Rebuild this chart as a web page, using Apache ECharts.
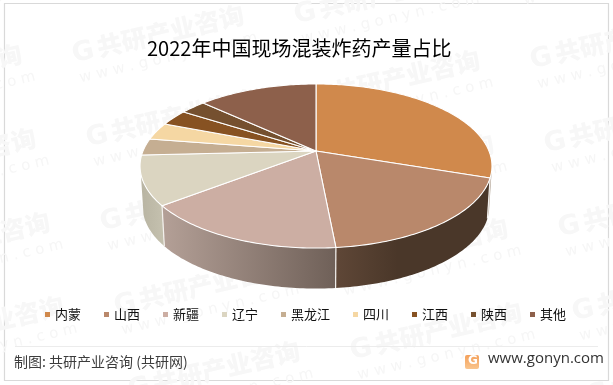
<!DOCTYPE html>
<html><head><meta charset="utf-8">
<style>html,body{margin:0;padding:0;background:#fff}#c{width:613px;height:385px}</style>
<script src="https://cdn.jsdelivr.net/npm/echarts@6/dist/echarts.min.js"></script>
</head><body><div id="c"></div>
<script>
const categories = ['内蒙','山西','新疆','辽宁','黑龙江','四川','江西','陕西','其他'];
const shares = [30.2,18.3,16.0,9.7,3.3,3.4,3.2,2.8,13.1];
const topColors = ['#d0894c','#b9886b','#ccaea3','#dbd5c1','#c5ae92','#f5d7a3','#875222','#75502f','#8d604b'];
const wallFrom = ['#b8aa9c','#5f4737','#b4a097','#b8b4a2','#b8b4a2','#b8b4a2','#b8b4a2','#b8b4a2','#b8b4a2'];
const wallTo   = ['#8a7866','#4a3729','#6f6058','#c4c0ae','#c4c0ae','#c4c0ae','#c4c0ae','#c4c0ae','#c4c0ae'];
const titleText = '2022年中国现场混装炸药产量占比';
const sourceText = '制图: 共研产业咨询 (共研网)';
const siteText = 'www.gonyn.com';

const FONT = '"Noto Sans CJK SC","Noto Sans",sans-serif';
const total = shares.reduce((a,b)=>a+b,0);
const starts = []; { let s=0; shares.forEach(v=>{starts.push(s); s+=v;}); }

// perspective disc: unit circle -> normalized grid coordinates (grid spans the top ellipse)
const P=0.183, A=79.3, B=173, RX=176, RY=82, APEX=15, DEPTH=40.5/RY;
function rim(t){ const u=Math.sin(t), v=Math.cos(t), w=1+P*v; return [B*u/w/RX,(APEX+A*v/w)/RY]; }
const apex=[0,APEX/RY];
function low(p){ return [p[0]*0.985, p[1]-DEPTH]; }
const VIS0=104*Math.PI/180, VIS1=254*Math.PI/180;

function angleRange(i){ return [starts[i]/total*2*Math.PI,(starts[i]+shares[i])/total*2*Math.PI]; }
function arc(t0,t1){ const n=Math.max(2,Math.ceil((t1-t0)/(Math.PI/180))); const r=[]; for(let k=0;k<=n;k++) r.push(t0+(t1-t0)*k/n); return r; }

function renderSlice(i){
  return function(params,api){
    const c=p=>api.coord(p);
    const [t0,t1]=angleRange(i);
    const kids=[];
    const a=Math.max(t0,VIS0), b=Math.min(t1,VIS1);
    if(b>a){
      const ts=arc(a,b);
      const upper=ts.map(t=>c(rim(t)));
      const lower=ts.map(t=>c(low(rim(t)))).reverse();
      const xs=upper.map(p=>p[0]);
      const left=Math.min(...xs), right=Math.max(...xs);
      const fill=new echarts.graphic.LinearGradient(left,0,left+(right-left)*(i===1?0.4:1),0,
        [{offset:0,color:wallFrom[i]},{offset:1,color:wallTo[i]}],true);
      kids.push({type:'polygon',z2:1,shape:{points:upper.concat(lower)},style:{fill:fill,stroke:null}});
      if(a===t0) kids.push({type:'line',z2:2,shape:{x1:upper[0][0],y1:upper[0][1],x2:lower[lower.length-1][0],y2:lower[lower.length-1][1]},style:{stroke:'#f4f1ee',lineWidth:1.2}});
    }
    const top=[c(apex)].concat(arc(t0,t1).map(t=>c(rim(t))));
    kids.push({type:'polygon',z2:3,shape:{points:top},style:{fill:topColors[i],stroke:'#fff',lineWidth:1.1,lineJoin:'round'}});
    return {type:'group',children:kids};
  };
}

// faint background marks
const marks=[];
const ax=236, ay=45, bx=14, by=84, ox=81, oy=53;
for(let m=-2;m<=3;m++) for(let n=-3;n<=5;n++){
  const x=ox+m*ax+n*bx, y=oy+m*ay+n*by;
  if(x<-190||x>620||y<-30||y>400) continue;
  marks.push({type:'group',x:x,y:y,rotation:13*Math.PI/180,silent:true,z:-10,children:[
    {type:'text',x:-9,y:-13,style:{text:'G',font:'900 27px "DejaVu Sans"',fill:'#f7f7f7'}},
    {type:'text',x:17,y:-14,style:{text:'共研产业咨询',font:'900 25px '+FONT,fill:'#f7f7f7'}},
    {type:'text',x:-7,y:17,style:{text:'w w w . g o n y n . c o m',font:'15px "DejaVu Sans"',fill:'#f6f6f6'}}
  ]});
}

const chrome=[
  {type:'rect',z:-5,silent:true,shape:{x:4.5,y:3.5,width:604,height:377},style:{fill:'none',stroke:'#d9d9d9',lineWidth:1.2}},
  {type:'line',silent:true,shape:{x1:15,y1:346.5,x2:598,y2:346.5},style:{stroke:'#ececec',lineWidth:1}},
  {type:'text',silent:true,x:14,y:355,style:{text:sourceText,font:'14px '+FONT,fill:'#3c3c3c'}},
  {type:'text',silent:true,x:488,y:351,style:{text:siteText,font:'15px "Open Sans"',fill:'#333'}},
  {type:'rect',silent:true,shape:{x:465,y:355,width:14,height:14,r:2},style:{fill:new echarts.graphic.LinearGradient(0,0,0,1,[{offset:0,color:'#f4a05a'},{offset:1,color:'#f9c58e'}])}},
  {type:'text',silent:true,x:468,y:355,style:{text:'G',font:'bold 12px "DejaVu Sans"',fill:'#fff'}}
];

const chart=echarts.init(document.getElementById('c'),null,{renderer:'canvas'});
chart.setOption({
  animation:false,
  backgroundColor:'#fff',
  title:{text:titleText,left:142,top:33,textStyle:{fontFamily:FONT,fontSize:20,fontWeight:'normal',color:'#000'}},
  grid:{left:140,width:352,top:84,height:164,containLabel:false},
  xAxis:{type:'value',min:-1,max:1,show:false},
  yAxis:{type:'value',min:-1,max:1,show:false},
  legend:{left:40,top:303,icon:'rect',itemWidth:5,itemHeight:5,itemGap:23,selectedMode:false,
    textStyle:{fontFamily:FONT,fontSize:13,color:'#111'},data:categories},
  graphic:marks.concat(chrome),
  series:categories.map((name,i)=>({
    type:'custom',name:name,coordinateSystem:'cartesian2d',silent:true,clip:false,
    itemStyle:{color:topColors[i]},
    renderItem:renderSlice(i),
    encode:{x:0,y:1},
    data:[[0,0,shares[i]]]
  }))
});
</script></body></html>
